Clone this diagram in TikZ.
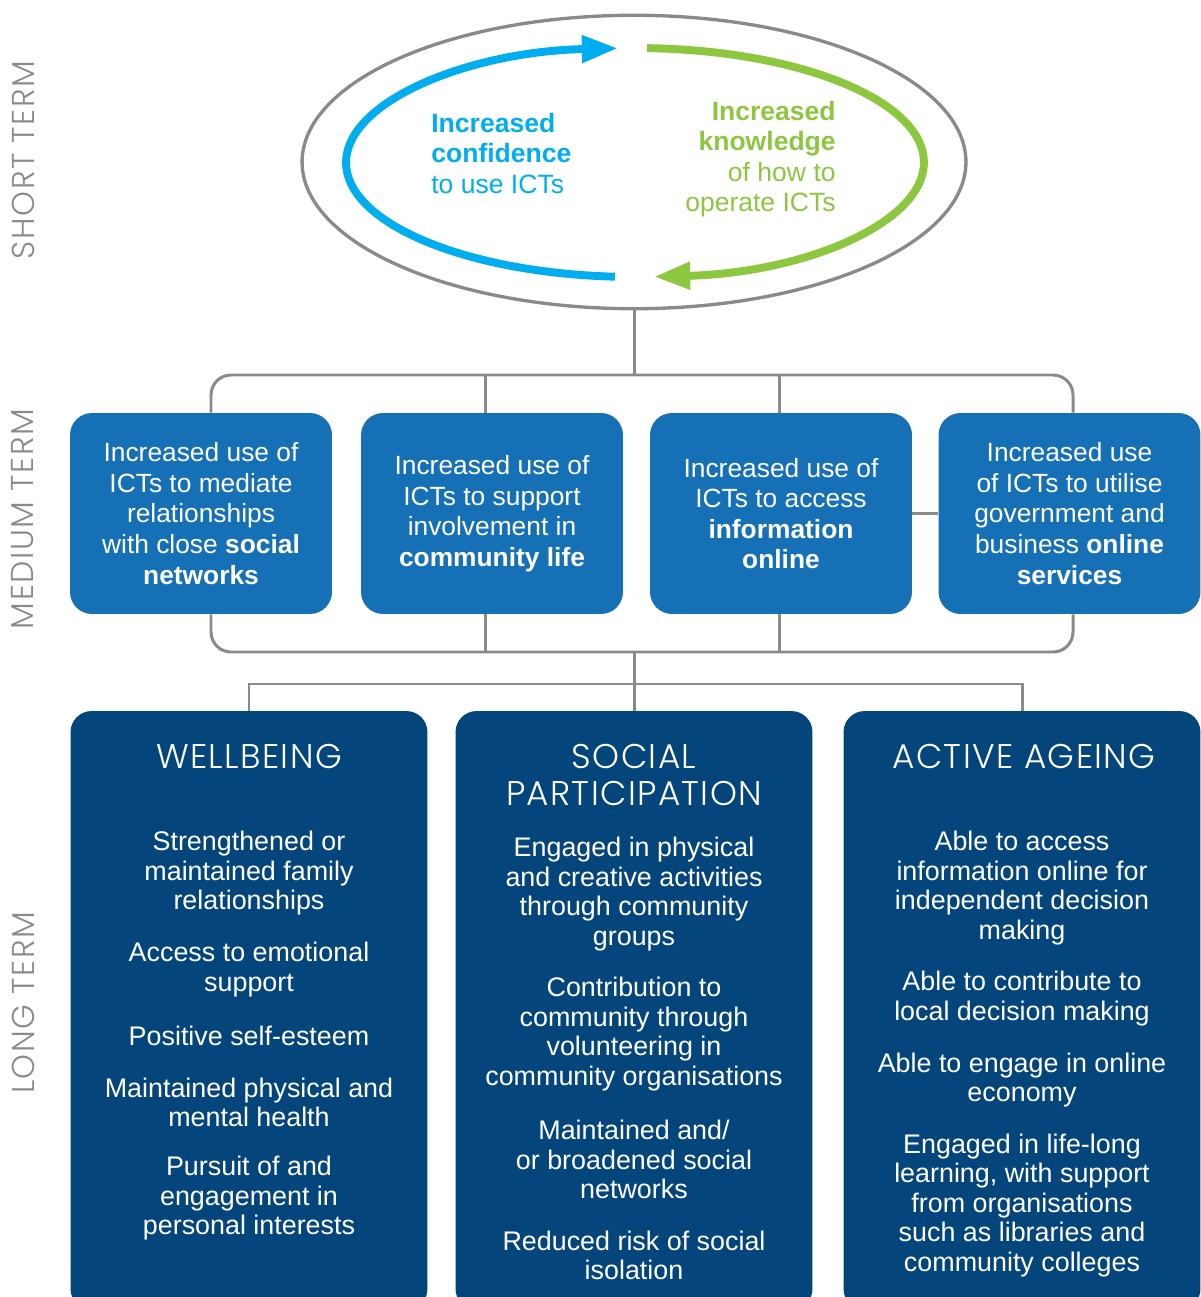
\documentclass[tikz,border=0pt]{standalone}
\usepackage{fontspec}
\setmainfont{Liberation Sans}
\newfontfamily\headfont{Poppins}[UprightFont=* Light,LetterSpace=4]
\newfontfamily\termfont{Poppins}[UprightFont=* Light,LetterSpace=5]
\usepackage{xcolor}
\usepackage{tikz}
\usetikzlibrary{shapes.geometric,arrows.meta,positioning,calc}
\definecolor{icgray}{HTML}{8A8A8D}
\definecolor{icblue}{HTML}{00AEEF}
\definecolor{icgreen}{HTML}{8DC63F}
\definecolor{icmid}{HTML}{1670B6}
\definecolor{icdeep}{HTML}{04457B}

\tikzset{
  link/.style={draw=icgray,line width=1.7pt},
  loopline/.style={line width=4.5pt,-{Triangle[length=0.72cm,width=0.52cm]}},
  midbox/.style={fill=icmid,rounded corners=0.44cm,minimum width=5.24cm,minimum height=4.02cm,
    inner sep=0pt,text=white,align=center,font=\fontsize{15}{17.4}\selectfont},
  longbox/.style={fill=icdeep,rounded corners=0.42cm,minimum width=7.14cm,minimum height=11.98cm,inner sep=0pt},
  headline/.style={text=white,align=center,inner sep=0pt,font=\headfont\fontsize{19.5}{20.5}\selectfont},
  item/.style={text=white,align=center,inner sep=0pt,font=\fontsize{15.3}{16.8}\selectfont},
  termlabel/.style={text=icgray,rotate=90,inner sep=0pt,font=\termfont\fontsize{18}{20}\selectfont},
}

\begin{document}
\begin{tikzpicture}[x=0.02cm,y=-0.02cm,line cap=butt]
\useasboundingbox (0,0) rectangle (1200,1297);
%% side labels
\node[termlabel] (short)  at (23,160)  {SHORT TERM};
\node[termlabel] (medium) at (23,519)  {MEDIUM TERM};
\node[termlabel] (long)   at (23,1003) {LONG TERM};

%% short term: outer ring and the two feedback arrows
\node[draw=icgray,line width=1.9pt,ellipse,minimum width=13.28cm,minimum height=5.87cm,inner sep=0pt] (cycle) at (634,162) {};
\coordinate (hub) at (635,162.5);
\draw[loopline,icblue]  ($(hub)+(266:5.78cm and 2.29cm)$)  arc[start angle=266,end angle=93.4,x radius=5.78cm,y radius=2.29cm];
\draw[loopline,icgreen] ($(hub)+(87.6:5.78cm and 2.29cm)$) arc[start angle=87.6,end angle=-86.2,x radius=5.78cm,y radius=2.29cm];
\node[text=icblue,align=left,anchor=west,inner sep=0pt,font=\fontsize{15.1}{17.4}\selectfont] (confidence) at (431,153.5)
  {\textbf{Increased}\\\textbf{confidence}\\to use ICTs};
\node[text=icgreen,align=right,anchor=east,inner sep=0pt,font=\fontsize{15.1}{17.4}\selectfont] (knowledge) at (836,159)
  {\textbf{Increased}\\\textbf{knowledge}\\of how to\\operate ICTs};

%% medium term boxes
\node[midbox] (m1) at (201,513.5)  {Increased use of\\ICTs to mediate\\relationships\\with close \textbf{social}\\\textbf{networks}};
\node[midbox] (m2) at (492,513.5)  {Increased use of\\ICTs to support\\involvement in\\\textbf{community life}};
\node[midbox] (m3) at (781,513.5)  {Increased use of\\ICTs to access\\\textbf{information}\\\textbf{online}};
\node[midbox] (m4) at (1069.5,513.5) {Increased use\\of ICTs to utilise\\government and\\business \textbf{online}\\\textbf{services}};

%% long term boxes
\node[longbox] (l1) at (249,1010.5)  {};
\node[longbox] (l2) at (634,1010.5)  {};
\node[longbox] (l3) at (1022,1010.5) {};
\node[headline] (wellbeing) at (249,757)  {WELLBEING};
\node[headline] (social)    at (634,775)  {SOCIAL\\PARTICIPATION};
\node[headline] (ageing)    at (1024,757) {ACTIVE AGEING};

\foreach \i/\y/\txt in {1/873.5/{Strengthened or\\maintained family\\relationships},
    2/969.5/{Access to emotional\\support}, 3/1036/{Positive self-esteem},
    4/1102.5/{Maintained physical and\\mental health}, 5/1198.5/{Pursuit of and\\engagement in\\personal interests}}
  \node[item] (wb-\i) at (249,\y) {\txt};
\foreach \i/\y/\txt in {1/894/{Engaged in physical\\and creative activities\\through community\\groups},
    2/1034/{Contribution to\\community through\\volunteering in\\community organisations},
    3/1159.5/{Maintained and/\\or broadened social\\networks}, 4/1255.5/{Reduced risk of social\\isolation}}
  \node[item] (sp-\i) at (634,\y) {\txt};
\foreach \i/\y/\txt in {1/888/{Able to access\\information online for\\independent decision\\making},
    2/998.5/{Able to contribute to\\local decision making}, 3/1080/{Able to engage in online\\economy},
    4/1205.5/{Engaged in life-long\\learning, with support\\from organisations\\such as libraries and\\community colleges}}
  \node[item] (aa-\i) at (1022,\y) {\txt};

%% connectors
\coordinate (top) at (634,375);
\coordinate (tl) at (211,375);  \coordinate (tr) at (1073,375);
\coordinate (bl) at (211,652);  \coordinate (br) at (1073,652);
\coordinate (j2) at (485,375);  \coordinate (j3) at (779,375);
\coordinate (k2) at (485,652);  \coordinate (k3) at (779,652);
\coordinate (base) at (634,652); \coordinate (fork) at (634,684);
\draw[link] (cycle.south) -- (top);
\draw[link,rounded corners=0.4cm] (m1.north -| tl) -- (tl) -- (tr) -- (m4.north -| tr);
\draw[link,rounded corners=0.4cm] (m1.south -| bl) -- (bl) -- (br) -- (m4.south -| br);
\draw[link] (j2) -- (j2 |- m2.north);
\draw[link] (j3) -- (j3 |- m3.north);
\draw[link] (m2.south -| k2) -- (k2);
\draw[link] (m3.south -| k3) -- (k3);
\draw[link] (m3.east) -- (m4.west);
\draw[link] (base) -- (l2.north);
\draw[link] (l1.north) |- (fork) -| (l3.north);
\end{tikzpicture}
\end{document}
